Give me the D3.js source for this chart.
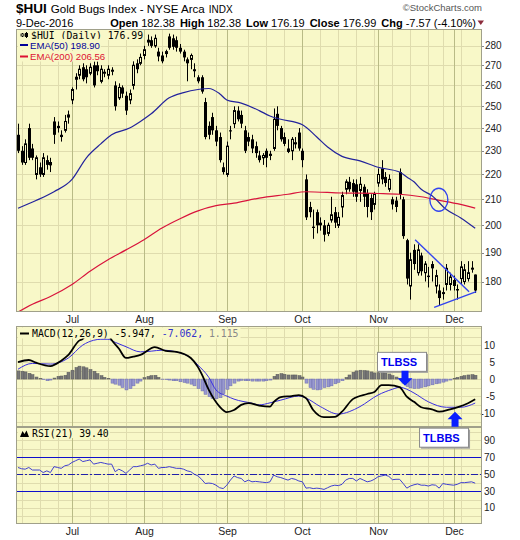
<!DOCTYPE html>
<html>
<head>
<meta charset="utf-8">
<script src="https://cdn.jsdelivr.net/npm/d3@7/dist/d3.min.js"></script>
<style>
  body { margin: 0; background: #fff; }
  text { font-family: "Liberation Sans", Arial, sans-serif; }
  .mono { font-family: "DejaVu Sans Mono", monospace; }
</style>
</head>
<body>
<svg id="chart" width="520" height="540"></svg>
<script>
// trading calendar
const firstDay = '2016-06-10';
const lastDay = '2016-12-09';
const holidays = ['2016-07-04', '2016-09-05', '2016-11-24'];
const monthLabels = ['Jul', 'Aug', 'Sep', 'Oct', 'Nov', 'Dec'];

// daily candles
const openP = [237,230,225,240,231,220,223,220,226,224,
  243,241,237,239,245,253,263,265,269,268,
  266,270,270,262,266,265,267,260,254,259,
  255,253,260,271,271,275,282,283,280,277,
  275,276,285,284,283,279,277,273,273,268,
  264,264,252,241,245,239,236,223,220,239,
  242,248,246,239,236,235,232,228,227,230,
  228,231,246.5,240,236,231,230,233,238,230,
  218,207,199.5,205,201,200,197,202,205,200,
  207,214,217,216.5,216,213.5,215,212.5,210.5,208,
  216.5,222.5,219,214,210,209.5,221,210,194.5,178.5,
  191,183,189,183,182,186,178.5,177,176,179,
  179,180.5,177.5,181,180,181,184.5,182.38];
const highP = [242,232,235,242,233,228,225,229,228,227,
  245,243,239,246,248,259,266,270,271,270,
  271,272,272,270,268,270,269,262,261,260,
  257,258,272,273,276,280,286,285,286,279,
  277,278,286.5,286,285,281,278,274,276,271,
  265,265,254,243,247,241,238,225,234,241,
  250,250,248,241,238,237,234,230,229,231,
  230,249,250,241,238,235,236,236,240,231,
  220,209,206,206,203,202,201,211,207,205,
  213,218,219,218,218,219,216,214,212,213,
  222.5,226,221,220,211,211,222.5,211,195,190,
  193,193,190,187,185,187,184,179,178,186,
  183,182,179,187,186,187,187,182.38];
const lowP = [229,224,224,226,226,218,219,219,222,221,
  233,238,234,238,242,251,258,263,262,261,
  265,259,265,261,264,263,265,248,253,254,
  246,251,258,266,270,273,280,279,279,272,
  271,274,278,278,277,276,272,262,268,264,
  261,256,235,235,237,232,225,220,219,235,
  240,243,240,229,232,229,227,225,224,223,
  226,230,239,234,232,229,226,231,230,223,
  202,203,195,197,198,194,196,201,199,199,
  203,212,213,211,209,209,207,203,202,206,
  215,216,215,213,206,205,210,195,179,174,
  184,182,182,180,178,180,176,172,174,177,
  177,177,174,179,179,180,183,176.19];
const closeP = [230,225,233,227,227,227,220,227,224,225,
  237,240,236,243,246,258,264,268,263,264,
  269,260,267,268,266.5,268,267.5,250,259,256,
  248,256,270,268,274,278,283,280,284,274.5,
  272,277,279,279.5,279,277,274,271,275,267,
  262,257,236,237,239,234,226,221,232,238.5,
  248,244,242,230,234,231,229,226,228,227,
  228.5,244,241,235,233,229.5,235,233.5,231,226,
  203,205,199,200,200,196.5,200,204,201,203,
  211.5,217,214,213,211,216,211,207,205,212,
  220,218,216.5,218,208,207,212,196,181,187.5,
  186,191,183.5,186,181.5,184.5,182,174.5,176.3,184.5,
  181.5,178.5,177,185,184,183,184.56,176.99];

// moving averages as [day index, value]
const ema50 = [[0,206.5],[5,209.5],[10,213],[15,218],[19,227],[23,233],[26,237],[31,240],[34,243],
  [37,246.5],[42,254],[46,256.5],[50,258],[53,258.5],[56,256],[58,253],[62,251.5],[67,248],[70,245.5],
  [73,244],[79,241.5],[83,236],[86,231.6],[90,227.6],[95,225.7],[100,223],[106,221],[108,219],[110,217],
  [112,214],[115,211.4],[119,206],[123,202.8],[127,198.9]];
const ema200 = [[0,170],[4,172.5],[9,175],[15,179],[20,183.5],[25,187.5],[30,191],[35,194.7],[40,199],
  [45,202.5],[50,205.5],[55,207.5],[60,208.5],[67,210.5],[75,212],[80,213],[90,212.5],[100,212.3],
  [106,212],[112,211],[117,209.6],[122,208.3],[127,206.56]];

// MACD(12,26,9)
const macdLine = [[0,5.0],[3,5.6],[5,4.8],[9,3.8],[12,5.4],[14,7.1],[17,11.3],[18,11.8],[19,13.2],[21,13.8],
  [23,13.8],[25,13.0],[26,11.5],[28,9.0],[30,6.2],[32,6.6],[34,7.1],[38,9.4],[41,8.3],[44,8.0],[48,6.2],
  [50,3.5],[51,1.5],[53,-3.2],[56,-8.1],[58,-9.7],[60,-9.1],[62,-7.6],[64,-7.1],[67,-7.8],[70,-8.1],
  [71,-6.8],[73,-5.3],[76,-5.0],[78,-4.7],[80,-5.6],[82,-9.1],[85,-11.2],[88,-11.1],[90,-9.6],[93,-5.9],
  [97,-4.4],[99,-3.8],[101,-1.8],[103,-1.8],[106,-2.4],[108,-5.2],[110,-6.7],[112,-8.3],[115,-8.9],
  [117,-9.6],[120,-8.9],[122,-8.3],[125,-7.1],[127,-5.947]];
const signalLine = [[0,2.9],[4,4.6],[9,4.4],[14,6.2],[18,10],[21,11.4],[23,11.7],[25,11.7],[27,10.8],
  [30,9.5],[34,8.0],[37,8.2],[40,8.5],[45,7.7],[48,6.2],[50,4.1],[53,0.5],[55,-3.2],[58,-5.0],[60,-5.9],
  [65,-7.1],[67,-7.6],[70,-7.0],[73,-6.2],[78,-5.0],[80,-5.6],[84,-8.1],[89,-10.3],[92,-9.6],[95,-8.1],
  [100,-4.7],[104,-3.0],[106,-2.4],[108,-3.0],[110,-4.1],[114,-6.7],[119,-8.3],[123,-8.3],[127,-7.062]];
const macdHist = [2.4,2.3,2.1,1.7,1.3,0.6,0.2,-0.2,-0.5,-0.3,
  0.3,0.8,0.9,1.1,2.0,2.6,3.4,3.8,3.6,3.3,
  2.8,2.3,1.6,1.0,0.5,0.2,-1.2,-1.5,-1.8,-2.5,
  -3.2,-2.8,-2.0,-1.2,-0.6,0.4,0.8,1.0,1.1,0.5,
  -0.1,-0.2,-0.3,-0.5,-0.5,-0.8,-1.0,-1.2,-1.5,-2.0,
  -2.8,-3.5,-4.5,-5.2,-5.7,-5.8,-5.5,-4.3,-3.0,-2.0,
  -1.2,-0.6,-0.4,-0.5,-0.5,-0.6,-0.6,-0.6,-0.6,-0.5,
  -0.3,0.8,1.4,1.6,1.4,1.2,1.2,1.2,1.0,0.6,
  -1.2,-2.5,-3.0,-3.2,-3.0,-2.5,-2.3,-2.0,-1.4,-1.0,
  -0.5,0.5,1.2,2.0,2.4,2.6,2.5,2.4,2.1,1.8,
  1.9,2.0,1.8,1.5,1.0,0.6,0.1,-1.2,-2.2,-2.6,
  -2.8,-2.7,-2.5,-2.3,-2.0,-1.7,-1.4,-1.2,-0.9,-0.6,
  -0.3,0.2,0.5,0.8,1.0,1.2,1.3,1.115];

// RSI(21)
const rsi = [58,56.5,56,58,55,55,55,52,54,52,
  59,58,57,60,61,64,66,68,65,66,
  67,62,63,64,63,62,62,53,56,54,
  51,55,59,59,60,61,63,61,62,57,
  58,58,59,58,57,57,56,54,53,50,
  48,44,39,39.5,39,37,34,33,37,43,
  48,46,45,41,43,41,41.5,41,40.5,40,
  41,49,47,46,44.5,43,45,44,42,41,
  33.5,34,33,33.5,33,32,34,36,37,36.5,
  38,43,45,45,42,45,43,41,42,44,
  47,48,49,47.5,43.5,44,44,39,33.5,36,
  37.5,38.5,37,37,36,37.5,37,33.5,39,38,
  37.5,37,38,40,40,40.5,41,39.4];

const priceTicks = [180, 190, 200, 210, 220, 230, 240, 250, 260, 270, 280];
const macdTicks = [-10, -5, 0, 5, 10];
const rsiTicks = [10, 30, 50, 70, 90];
const rsiBands = [70, 30];

const quoteLabels = ['Open', 'High', 'Low', 'Close', 'Chg'];
const quoteValues = ['182.38', '182.38', '176.19', '176.99', '-7.57 (-4.10%)'];

// hand-drawn annotations (day index, value)
const trendLines = [[[110.3, 194.7], [125.3, 176.6]], [[115.6, 171.5], [127.3, 176.6]]];
const crossMark = [116.9, 209.8];
const signals = [
  { text: 'TLBSS', tip: [107.5, -2.0], dir: 'down' },
  { text: 'TLBBS', tip: [121.4, -9.6], dir: 'up' }
];

const svg = d3.select('#chart');
const left = 16, right = 482;
const bg = '#f8f8c8', gridLight = '#dfdcae', gridMonth = '#b9bb86', frame = '#a0a08a';

const parseDay = d3.timeParse('%Y-%m-%d');
const fmtDay = d3.timeFormat('%Y-%m-%d');
const days = d3.timeDay.range(parseDay(firstDay), d3.timeDay.offset(parseDay(lastDay), 1))
  .filter(d => d.getDay() > 0 && d.getDay() < 6 && !holidays.includes(fmtDay(d)));

const x = d3.scaleLinear().domain([0, days.length - 1]).range([18, 475.2]);
const px = i => Math.round(x(i));
const allIdx = d3.range(days.length);
const monthIdx = allIdx.filter(i => i > 0 && days[i].getMonth() !== days[i - 1].getMonth());
const weekIdx = allIdx.filter(i => days[i].getDay() === 1 && !monthIdx.includes(i));

function panel(id, top, bottom, yScale, gridVals) {
  const g = svg.append('g');
  g.append('clipPath').attr('id', 'clip-' + id)
    .append('rect').attr('x', left).attr('y', top).attr('width', right - left).attr('height', bottom - top);
  g.append('rect').attr('x', left).attr('y', top).attr('width', right - left).attr('height', bottom - top)
    .attr('fill', bg);
  const body = g.append('g').attr('clip-path', `url(#clip-${id})`);
  body.selectAll('line.h').data(gridVals).enter().append('line')
    .attr('x1', left).attr('x2', right)
    .attr('y1', d => Math.round(yScale(d)) + 0.5).attr('y2', d => Math.round(yScale(d)) + 0.5)
    .attr('stroke', gridLight);
  body.selectAll('line.w').data(weekIdx).enter().append('line')
    .attr('x1', i => px(i) + 0.5).attr('x2', i => px(i) + 0.5)
    .attr('y1', top).attr('y2', bottom).attr('stroke', gridLight);
  body.selectAll('line.m').data(monthIdx).enter().append('line')
    .attr('x1', i => px(i) + 0.5).attr('x2', i => px(i) + 0.5)
    .attr('y1', top).attr('y2', bottom).attr('stroke', gridMonth);
  return { g, body, top, bottom };
}

function legendBox(g, textSel, x0, pad) {
  const b = textSel.node().getBBox();
  g.insert('rect', () => textSel.node())
    .attr('x', x0).attr('y', b.y - 0.5).attr('width', b.x + b.width - x0 + pad).attr('height', b.height)
    .attr('fill', bg);
}

// ---------- header ----------
const head = svg.append('text').attr('x', 16).attr('y', 13).attr('fill', '#000');
head.append('tspan').attr('font-weight', 'bold').attr('font-size', 13.5).text('$HUI');
head.append('tspan').attr('font-size', 11.6).attr('dx', 4).text('Gold Bugs Index - NYSE Arca');
head.append('tspan').attr('font-size', 10).attr('dx', 4).text('INDX');

svg.append('text').attr('x', 482).attr('y', 11).attr('text-anchor', 'end')
  .attr('font-size', 9.5).attr('fill', '#555').text('\u00a9StockCharts.com');

svg.append('text').attr('x', 16).attr('y', 27).attr('font-size', 11).text('9-Dec-2016');

const quote = svg.append('text').attr('x', 476).attr('y', 27).attr('text-anchor', 'end').attr('font-size', 11);
quoteLabels.forEach((lab, k) => {
  quote.append('tspan').attr('font-weight', 'bold').attr('dx', k ? 5 : 0).text(lab);
  quote.append('tspan').attr('dx', 3).text(quoteValues[k]);
});
svg.append('path').attr('d', 'M477.5,20.5 L484,20.5 L480.75,25 Z').attr('fill', '#8c2c3c');

// ---------- price panel ----------
const yPrice = d3.scaleLog().domain([170, 289]).range([312, 29]);
const price = panel('price', 29, 312, yPrice, priceTicks);

const up = i => closeP[i] >= openP[i];
const candles = price.body.selectAll('g.candle').data(allIdx).enter().append('g');
candles.append('line')
  .attr('x1', i => px(i) + 0.5).attr('x2', i => px(i) + 0.5)
  .attr('y1', i => yPrice(highP[i])).attr('y2', i => yPrice(lowP[i]))
  .attr('stroke', '#000');
candles.append('rect')
  .attr('x', i => up(i) ? px(i) - 0.5 : px(i) - 1)
  .attr('width', i => up(i) ? 2 : 3)
  .attr('y', i => yPrice(Math.max(openP[i], closeP[i])))
  .attr('height', i => Math.max(1, yPrice(Math.min(openP[i], closeP[i])) - yPrice(Math.max(openP[i], closeP[i]))))
  .attr('fill', i => up(i) ? bg : '#000')
  .attr('stroke', i => up(i) ? '#000' : 'none');

const priceLine = d3.line().x(d => x(d[0])).y(d => yPrice(d[1])).curve(d3.curveMonotoneX);
price.body.append('path').datum(ema200).attr('d', priceLine)
  .attr('fill', 'none').attr('stroke', '#d8133c').attr('stroke-width', 1.2);
price.body.append('path').datum(ema50).attr('d', priceLine)
  .attr('fill', 'none').attr('stroke', '#23239c').attr('stroke-width', 1.2);

price.body.selectAll('line.trend').data(trendLines).enter().append('line')
  .attr('x1', d => x(d[0][0])).attr('y1', d => yPrice(d[0][1]))
  .attr('x2', d => x(d[1][0])).attr('y2', d => yPrice(d[1][1]))
  .attr('stroke', '#3344ee').attr('stroke-width', 1.4);
price.body.append('ellipse')
  .attr('cx', x(crossMark[0])).attr('cy', yPrice(crossMark[1])).attr('rx', 9).attr('ry', 11.5)
  .attr('fill', 'none').attr('stroke', '#3344ee').attr('stroke-width', 1.4);

// price legend
const pl = price.g.append('g');
const t1 = pl.append('text').attr('class', 'mono').attr('x', 31).attr('y', 38.5).attr('font-size', 9.8)
  .attr('fill', '#000').text('$HUI (Daily) 176.99');
legendBox(pl, t1, 18, 1);
[[22, 33, 37, 34, 36, false], [26, 32, 38, 33, 37, true]].forEach(c => {
  pl.append('line').attr('x1', c[0] + 0.5).attr('x2', c[0] + 0.5).attr('y1', c[1]).attr('y2', c[2]).attr('stroke', '#000');
  pl.append('rect').attr('x', c[0] - 1).attr('y', c[3]).attr('width', 3).attr('height', c[4] - c[3])
    .attr('fill', c[5] ? '#000' : bg).attr('stroke', c[5] ? 'none' : '#000').attr('stroke-width', 0.8);
});
[['EMA(50) 198.90', '#000099', 48.5], ['EMA(200) 206.56', '#dd1133', 60]].forEach(e => {
  const t = pl.append('text').attr('x', 30).attr('y', e[2]).attr('font-size', 9.6).attr('fill', e[1]).text(e[0]);
  legendBox(pl, t, 18, 1);
  pl.append('line').attr('x1', 20).attr('x2', 28).attr('y1', e[2] - 3.5).attr('y2', e[2] - 3.5)
    .attr('stroke', e[1]).attr('stroke-width', 2);
});

// price axis
svg.selectAll('text.pt').data(priceTicks).enter().append('text')
  .attr('x', 485).attr('y', d => yPrice(d) + 3.5).attr('font-size', 10).attr('fill', '#222').text(d => d);
svg.selectAll('line.ptk').data(priceTicks).enter().append('line')
  .attr('x1', right).attr('x2', right + 2).attr('y1', d => Math.round(yPrice(d)) + 0.5)
  .attr('y2', d => Math.round(yPrice(d)) + 0.5).attr('stroke', '#888');

// month labels
[323, 535].forEach(yy => {
  svg.selectAll(null).data(monthIdx).enter().append('text')
    .attr('x', i => px(i) + 0.5).attr('y', yy).attr('text-anchor', 'middle')
    .attr('font-size', 10.5).attr('fill', '#222').text((i, k) => monthLabels[k]);
});

// ---------- MACD panel ----------
const yMacd = d3.scaleLinear().domain([-14.1, 15.6]).range([427, 326]);
const macd = panel('macd', 326, 427, yMacd, d3.range(-12.5, 15.1, 2.5));
macd.body.selectAll('rect.hist').data(allIdx).enter().append('rect')
  .attr('x', i => px(i) - 1).attr('width', 3)
  .attr('y', i => yMacd(Math.max(0, macdHist[i])))
  .attr('height', i => Math.abs(yMacd(macdHist[i]) - yMacd(0)))
  .attr('fill', i => macdHist[i] >= 0 ? '#787878' : '#9898cf')
  .attr('stroke', i => macdHist[i] >= 0 ? '#5a5a5a' : '#6e6eae').attr('stroke-width', 0.5);
const macdPath = d3.line().x(d => x(d[0])).y(d => yMacd(d[1])).curve(d3.curveMonotoneX);
macd.body.append('path').datum(signalLine).attr('d', macdPath)
  .attr('fill', 'none').attr('stroke', '#3a2ee0').attr('stroke-width', 1);
macd.body.append('path').datum(macdLine).attr('d', macdPath)
  .attr('fill', 'none').attr('stroke', '#000').attr('stroke-width', 1.8);

const ml = macd.g.append('g');
const mt = ml.append('text').attr('class', 'mono').attr('x', 32).attr('y', 337).attr('font-size', 9.8);
mt.append('tspan').attr('fill', '#000').text('MACD(12,26,9) -5.947,');
mt.append('tspan').attr('fill', '#3333cc').text(' -7.062,');
mt.append('tspan').attr('fill', '#888').text(' 1.115');
legendBox(ml, mt, 18, 2);
ml.append('line').attr('x1', 20).attr('x2', 29).attr('y1', 333.5).attr('y2', 333.5).attr('stroke', '#000').attr('stroke-width', 2);

svg.selectAll('text.mt').data(macdTicks).enter().append('text')
  .attr('x', 495).attr('y', d => yMacd(d) + 3.5).attr('text-anchor', 'end')
  .attr('font-size', 10).attr('fill', '#222').text(d => d);

// ---------- RSI panel ----------
const yRsi = d3.scaleLinear().domain([-9, 106]).range([524, 427]);
const rsiP = panel('rsi', 427, 524, yRsi, d3.range(0, 101, 10));
rsiP.body.selectAll('line.band').data(rsiBands).enter().append('line')
  .attr('x1', left).attr('x2', right)
  .attr('y1', d => Math.round(yRsi(d)) + 0.5).attr('y2', d => Math.round(yRsi(d)) + 0.5)
  .attr('stroke', '#1010cc').attr('stroke-width', 1.2);
rsiP.body.append('line').attr('x1', left).attr('x2', right)
  .attr('y1', Math.round(yRsi(50)) + 0.5).attr('y2', Math.round(yRsi(50)) + 0.5)
  .attr('stroke', '#2020aa').attr('stroke-dasharray', '7,2,2,2');
rsiP.body.append('path').datum(rsi)
  .attr('d', d3.line().x((d, i) => x(i)).y(d => yRsi(d)))
  .attr('fill', 'none').attr('stroke', '#4040d0').attr('stroke-width', 1);

const rl = rsiP.g.append('g');
const rt = rl.append('text').attr('class', 'mono').attr('x', 32).attr('y', 436.5).attr('font-size', 9.8)
  .attr('fill', '#000').text('RSI(21) 39.40');
legendBox(rl, rt, 18, 1);
rl.append('path').attr('d', 'M20,437 L22.5,431 L24.5,434 L26.5,430.5 L29,437 Z').attr('fill', '#000');

svg.selectAll('text.rt').data(rsiTicks).enter().append('text')
  .attr('x', 495).attr('y', d => yRsi(d) + 3.5).attr('text-anchor', 'end')
  .attr('font-size', 10).attr('fill', '#222').text(d => d);

// frames
[price, macd, rsiP].forEach(p => {
  svg.append('rect').attr('x', left + 0.5).attr('y', p.top + 0.5)
    .attr('width', right - left - 1).attr('height', p.bottom - p.top - 1)
    .attr('fill', 'none').attr('stroke', frame);
});

// ---------- signal callouts ----------
signals.forEach(s => {
  const tx = x(s.tip[0]), ty = yMacd(s.tip[1]);
  const g = svg.append('g');
  const down = s.dir === 'down';
  const bw = 49, bh = 19;
  const bx = down ? tx - 28 : tx - 36;
  const by = down ? ty - 15 - bh : ty + 16;
  g.append('rect').attr('x', bx + 2).attr('y', by + 2).attr('width', bw).attr('height', bh).attr('fill', '#a0a0a0');
  g.append('rect').attr('x', bx + 0.5).attr('y', by + 0.5).attr('width', bw).attr('height', bh)
    .attr('fill', '#fff').attr('stroke', '#8a8a8a');
  g.append('text').attr('x', bx + 4).attr('y', by + 14).attr('font-size', 11).attr('font-weight', 'bold')
    .attr('fill', '#0000ee').text(s.text);
  const d = down ? 1 : -1;
  g.append('path')
    .attr('d', `M${tx - 3.5},${ty - d * 15} L${tx + 3.5},${ty - d * 15} L${tx + 3.5},${ty - d * 7.5}
      L${tx + 7.5},${ty - d * 7.5} L${tx},${ty} L${tx - 7.5},${ty - d * 7.5} L${tx - 3.5},${ty - d * 7.5} Z`)
    .attr('fill', '#0a1eff');
});
</script>
</body>
</html>
